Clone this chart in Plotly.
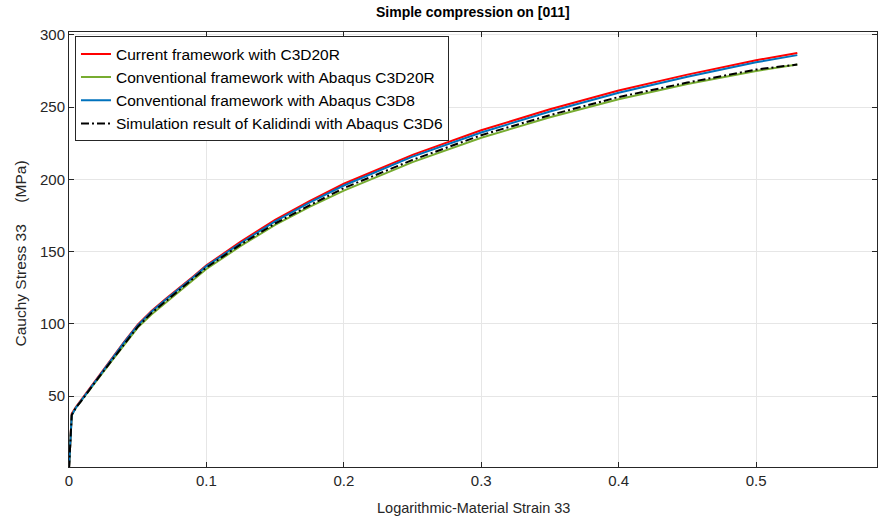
import plotly.graph_objects as go

strain = [0, 0.002, 0.005, 0.01, 0.02, 0.03, 0.04, 0.05, 0.06, 0.07, 0.08, 0.09, 0.1,
          0.125, 0.15, 0.175, 0.2, 0.25, 0.3, 0.35, 0.4, 0.45, 0.5, 0.53]

current_c3d20r = [0, 38, 42.5, 49, 62, 74.5, 87.5, 99.5, 109, 117, 124.5, 132.5, 140.5,
                  157, 172, 185, 197, 217, 234, 248.5, 261.5, 272.5, 282.5, 287.5]
conv_c3d20r = [0, 37, 42, 48, 60.5, 73, 85.5, 97.5, 106.5, 114.5, 122, 130, 138,
               154, 168.5, 181, 192.3, 212, 228.8, 243, 255.5, 266, 275, 279.5]
conv_c3d8 = [0, 37, 42, 48.5, 61.5, 74, 87, 99, 108.5, 116.5, 124, 132, 140,
             156, 171, 184, 195.8, 215.8, 232.5, 247, 260, 271, 281, 286]
kalidindi_c3d6 = [0, 37, 42, 48, 61, 73.5, 86, 98, 107.5, 115.5, 123, 131, 139,
                  155, 169.5, 182, 194, 213.5, 230.6, 244.5, 257, 267, 276, 279.5]

names = [
    "Current framework with C3D20R",
    "Conventional framework with Abaqus C3D20R",
    "Conventional framework with Abaqus C3D8",
    "Simulation result of Kalidindi with Abaqus C3D6",
]

x_ticks = [0, 0.1, 0.2, 0.3, 0.4, 0.5]
x_tick_labels = ["0", "0.1", "0.2", "0.3", "0.4", "0.5"]
y_ticks = [50, 100, 150, 200, 250, 300]

FONT = "Liberation Sans, Arial, Helvetica, sans-serif"

fig = go.Figure()
series = [
    (current_c3d20r, "#ff0000", "solid"),
    (conv_c3d20r, "#77ac30", "solid"),
    (conv_c3d8, "#0072bd", "solid"),
    (kalidindi_c3d6, "#000000", "8px,3px,2px,3px"),
]
for (vals, color, dash), name in zip(series, names):
    fig.add_trace(go.Scatter(
        x=strain, y=vals, mode="lines", name=name,
        line=dict(color=color, width=2, dash=dash),
        hoverinfo="skip",
    ))

axis_common = dict(
    showline=True, linecolor="#262626", linewidth=1, mirror="ticks",
    ticks="inside", ticklen=5, tickcolor="#262626",
    showgrid=True, gridcolor="#e6e6e6", gridwidth=1,
    zeroline=False,
    tickfont=dict(family=FONT, size=15, color="#262626"),
)

fig.update_layout(
    width=878, height=523,
    margin=dict(l=69, r=1, t=32, b=56),
    paper_bgcolor="white", plot_bgcolor="white",
    showlegend=True,
    legend=dict(
        x=0.0074, y=0.99, xanchor="left", yanchor="top",
        bgcolor="white", bordercolor="#262626", borderwidth=1,
        font=dict(family=FONT, size=15.5, color="#000000"),
        tracegroupgap=0,
    ),
    xaxis=dict(range=[0, 0.588], tickvals=x_ticks, ticktext=x_tick_labels, **axis_common),
    yaxis=dict(range=[1, 302], tickvals=y_ticks, **axis_common),
    annotations=[
        dict(text="<b>Simple compression on [011]</b>", xref="paper", yref="paper",
             x=0.5, y=1, xanchor="center", yanchor="middle", yshift=20, showarrow=False,
             font=dict(family=FONT, size=14, color="#000000")),
        dict(text="Logarithmic-Material Strain 33", xref="paper", yref="paper",
             x=0.5, y=0, xanchor="center", yanchor="middle", yshift=-41, showarrow=False,
             font=dict(family=FONT, size=14.5, color="#262626")),
        dict(text="Cauchy Stress 33     (MPa)", xref="paper", yref="paper",
             x=0, y=0.5, xanchor="center", yanchor="middle", xshift=-49, yshift=-4,
             showarrow=False, textangle=-90,
             font=dict(family=FONT, size=15.5, color="#262626")),
    ],
)

fig.write_html("out.html")
